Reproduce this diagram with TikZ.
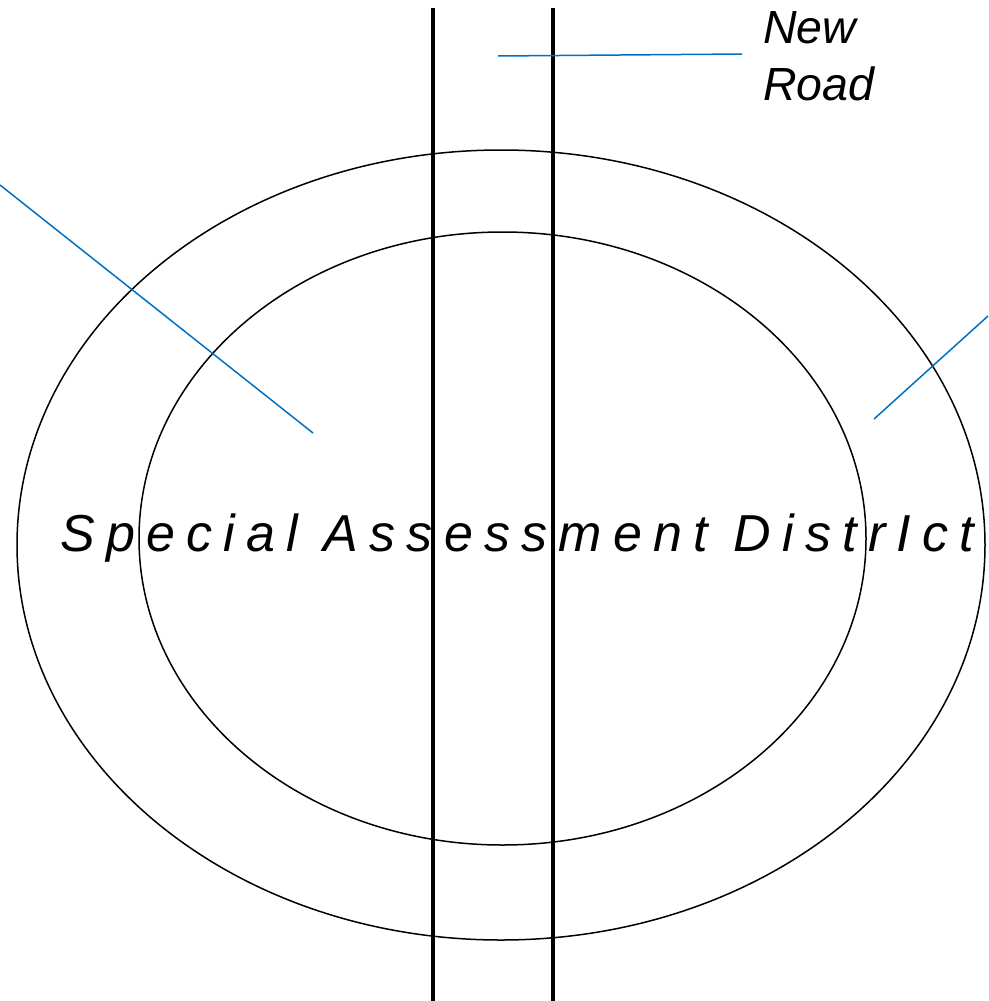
\documentclass[tikz,border=0pt]{standalone}
\usepackage{fontspec}
\setmainfont{Liberation Sans}
\definecolor{leaderblue}{RGB}{0,112,192}
\begin{document}
\begin{tikzpicture}[x=1pt,y=-1pt,
  ring/.style={draw=black,line width=1.5pt},
  road/.style={draw=black,line width=4pt},
  leader/.style={draw=leaderblue,line width=1.5pt},
  label/.style={inner sep=0pt,font=\itshape}]
\useasboundingbox (0,0) rectangle (988,1001);
\draw[ring] (501,545) ellipse [x radius=484, y radius=395];
\draw[ring] (502.5,538.5) ellipse [x radius=363.5, y radius=306.5];
\coordinate (r1t) at (433,8); \coordinate (r1b) at (433,1001);
\coordinate (r2t) at (552.5,8); \coordinate (r2b) at (552.5,1001);
\draw[road] (r1t) -- (r1b);
\draw[road] (r2t) -- (r2b);
\coordinate (l1a) at (498,56); \coordinate (l1b) at (742,54);
\coordinate (l2a) at (0,185); \coordinate (l2b) at (313,433);
\coordinate (l3a) at (988,316); \coordinate (l3b) at (874,419);
\draw[leader] (l1a) -- (l1b);
\draw[leader] (l2a) -- (l2b);
\draw[leader] (l3a) -- (l3b);
\node[label,anchor=base west,font=\itshape\fontsize{46.5}{57}\selectfont,align=left] (newroad) at (763,100) {New\\Road};
\node[label,anchor=base west,font=\itshape\fontsize{52}{60}\selectfont\addfontfeature{LetterSpace=21.6}] (district) at (60,551) {Special Assessment DistrIct};
\end{tikzpicture}
\end{document}
